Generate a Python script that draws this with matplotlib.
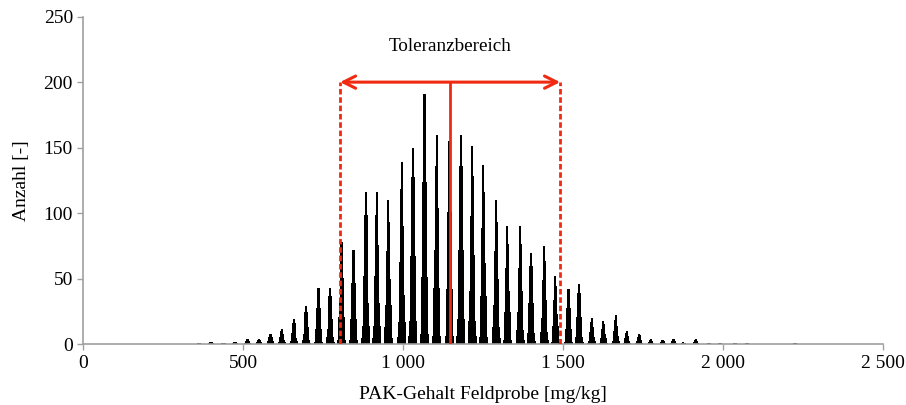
import matplotlib
matplotlib.use("Agg")
import matplotlib.pyplot as plt
from matplotlib.ticker import FuncFormatter

# peak position (mg/kg) and peak count of each spike
centers = [362, 399, 438, 474, 513, 549, 585, 620, 658, 696, 735, 771,
           807, 844, 883, 917, 953, 995, 1030, 1066, 1104, 1144, 1180, 1215,
           1250, 1290, 1325, 1365, 1399, 1440, 1475, 1516, 1549, 1589, 1625,
           1664, 1698, 1737, 1773, 1811, 1844, 1875, 1914, 1955, 1990, 2036,
           2073, 2224]
heights = [1, 2, 1, 2, 4, 4, 8, 12, 19, 29, 43, 43,
           78, 72, 116, 116, 110, 139, 150, 191, 160, 155, 160, 151,
           137, 110, 90, 90, 70, 75, 52, 42, 46, 20, 18,
           22, 10, 8, 4, 3.5, 4, 1.5, 4, 1, 1, 1,
           1, 1]

center_val = 1146
tol_low = 802
tol_high = 1490
tol_top = 200

red = '#f02a10'
gray = '#a0a0a0'

plt.rcParams['font.family'] = ['Liberation Serif', 'DejaVu Serif']

fig = plt.figure(figsize=(9.06, 4.05), dpi=100)
ax = fig.add_axes([0.092, 0.150, 0.883, 0.809])

# each spike drawn as stacked layers: narrow tall core, wider low shoulders
layers = [(7, 1.0), (10, 0.85), (13, 0.65), (16, 0.45), (20, 0.27),
          (24, 0.12), (28, 0.04)]
for w, frac in layers:
    ax.bar(centers, [h * frac for h in heights], width=w, color='black',
           linewidth=0, zorder=2)

ax.plot([tol_low, tol_low], [0, tol_top], color=red, lw=2,
        linestyle=(0, (2, 1)), zorder=3)
ax.plot([tol_high, tol_high], [0, tol_top], color=red, lw=2,
        linestyle=(0, (2, 1)), zorder=3)
ax.plot([center_val, center_val], [0, tol_top], color=red, lw=2, zorder=3)
ax.annotate('', xy=(tol_low, tol_top), xytext=(tol_high, tol_top),
            arrowprops=dict(arrowstyle='<->', color=red, lw=2.2,
                            mutation_scale=22, shrinkA=0, shrinkB=0),
            zorder=4)
ax.text(center_val, 227, 'Toleranzbereich', ha='center', va='center',
        fontsize=13.8)

ax.set_xlim(0, 2500)
ax.set_ylim(0, 250)
ax.set_xticks([0, 500, 1000, 1500, 2000, 2500])
ax.set_yticks([0, 50, 100, 150, 200, 250])
ax.xaxis.set_major_formatter(FuncFormatter(lambda v, p: f'{int(v):,}'.replace(',', ' ')))

for s in ['top', 'right']:
    ax.spines[s].set_visible(False)
for s in ['left', 'bottom']:
    ax.spines[s].set_color(gray)
    ax.spines[s].set_linewidth(1.2)
ax.tick_params(color=gray, length=4, width=1, labelsize=14)

ax.set_xlabel('PAK-Gehalt Feldprobe [mg/kg]', fontsize=14, labelpad=10)
ax.set_ylabel('Anzahl [-]', fontsize=14, labelpad=10)

fig.savefig('out.png', dpi=100)
